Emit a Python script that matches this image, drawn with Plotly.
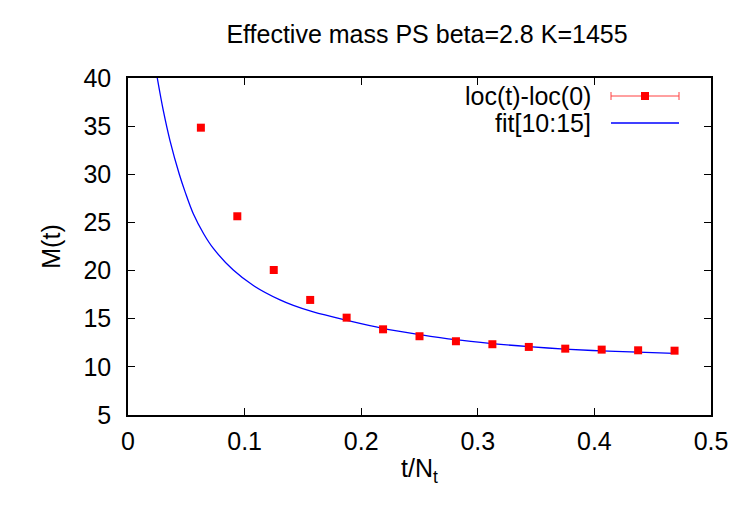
import plotly.graph_objects as go

# ---- data ----
t_over_Nt = [0.0625, 0.09375, 0.125, 0.15625, 0.1875, 0.21875, 0.25,
             0.28125, 0.3125, 0.34375, 0.375, 0.40625, 0.4375, 0.46875]
mass = [34.84, 25.64, 20.06, 16.95, 15.11, 13.90, 13.18,
        12.66, 12.35, 12.07, 11.89, 11.79, 11.72, 11.68]

fit_x = [0.0251, 0.0303, 0.0360, 0.0440, 0.0489, 0.0560, 0.0650, 0.0732,
         0.0903, 0.1075, 0.1304, 0.1418, 0.1589, 0.1870, 0.2184, 0.2504,
         0.2807, 0.3122, 0.3437, 0.3745, 0.4059, 0.4374, 0.4683]
fit_y = [40.0, 36.6, 33.5, 30.0, 28.2, 25.9, 23.8, 22.3,
         20.05, 18.45, 16.95, 16.38, 15.70, 14.85, 14.00, 13.35,
         12.82, 12.42, 12.10, 11.85, 11.66, 11.52, 11.41]

title = "Effective mass PS beta=2.8 K=1455"
legend_labels = ["loc(t)-loc(0)", "fit[10:15]"]

FONT = "Liberation Sans, Arial, sans-serif"
FS = 25

# plot-area geometry (pixels) for legend placement
L, R, T, B = 128, 711, 78, 415
W, H = R - L, B - T
def px(x):
    return (x - L) / W
def py(y):
    return (B - y) / H

fig = go.Figure()
fig.add_trace(go.Scatter(x=fit_x, y=fit_y, mode="lines",
                         line=dict(color="#0000ff", width=1.3, shape="spline",
                                   smoothing=1.0),
                         showlegend=False, cliponaxis=True))
fig.add_trace(go.Scatter(x=t_over_Nt, y=mass, mode="markers",
                         marker=dict(symbol="square", size=8, color="#ff0000",
                                     line=dict(width=0)),
                         showlegend=False))

axis_common = dict(showgrid=False, zeroline=False, showline=True,
                   linecolor="black", linewidth=1.5, mirror="allticks",
                   ticks="inside", ticklen=7, tickcolor="black", tickwidth=1,
                   tickfont=dict(family=FONT, size=FS, color="black"))

fig.update_layout(
    width=750, height=525,
    margin=dict(l=L, r=750 - R, t=T, b=525 - B),
    paper_bgcolor="white", plot_bgcolor="white",
    font=dict(family=FONT, size=FS, color="black"),
    title=dict(text=title, x=(427 / 750), xanchor="center",
               y=1 - 34 / 525, yanchor="middle",
               font=dict(family=FONT, size=FS, color="black")),
    xaxis=dict(range=[0, 0.5], dtick=0.1, tick0=0,
               title=dict(text="t/N<sub>t</sub>", standoff=6,
                          font=dict(family=FONT, size=FS)),
               ticklabelstandoff=3, **axis_common),
    yaxis=dict(range=[5, 40], dtick=5, tick0=5,
               title=dict(text="M(t)", standoff=16,
                          font=dict(family=FONT, size=FS)),
               ticklabelstandoff=10, **axis_common),
    showlegend=False,
)

# gnuplot-style legend (text right-aligned, sample on the right)
ys = [96, 123]
for lab, yy in zip(legend_labels, ys):
    fig.add_annotation(x=px(593), y=py(yy), xref="paper", yref="paper",
                       text=lab, showarrow=False, xanchor="right",
                       yanchor="middle",
                       font=dict(family=FONT, size=FS, color="black"))
x0, x1 = px(611), px(679)
# errorbar sample
fig.add_shape(type="line", xref="paper", yref="paper", x0=x0, x1=x1,
              y0=py(ys[0]), y1=py(ys[0]), line=dict(color="#ff4040", width=1))
for xc in (x0, x1):
    fig.add_shape(type="line", xref="paper", yref="paper", x0=xc, x1=xc,
                  y0=py(ys[0] - 4), y1=py(ys[0] + 4),
                  line=dict(color="#ff4040", width=1))
fig.add_shape(type="rect", xref="paper", yref="paper",
              x0=px(641), x1=px(649), y0=py(ys[0] + 4), y1=py(ys[0] - 4),
              fillcolor="#ff0000", line=dict(width=0))
# fit sample
fig.add_shape(type="line", xref="paper", yref="paper", x0=x0, x1=x1,
              y0=py(ys[1]), y1=py(ys[1]), line=dict(color="#0000ff", width=1.3))

fig.write_html("out.html")
